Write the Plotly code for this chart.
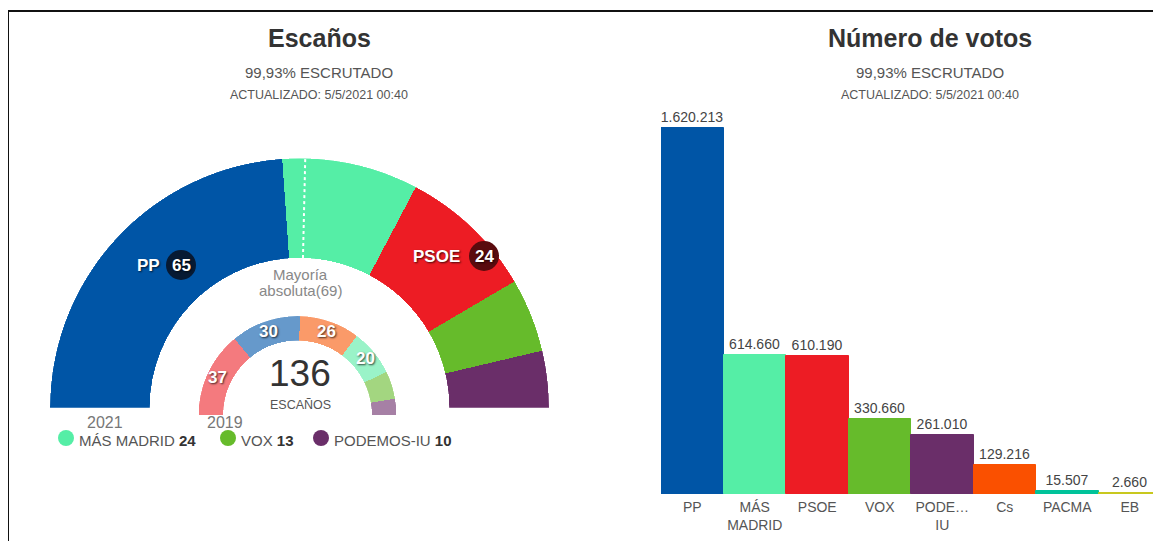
import plotly.graph_objects as go
import math

# page body has an 8px margin; figure sized to fit the window
OFF = 8
W, H = 1161 - OFF, 541 - OFF

# ---------------- data ----------------
parties_2021 = ["PP", "MÁS MADRID", "PSOE", "VOX", "PODEMOS-IU"]
seats_2021 = [65, 24, 24, 13, 10]
colors_2021 = ["#0055a6", "#55eea6", "#ed1c24", "#66bb2b", "#6a2e69"]

parties_2019 = ["PSOE", "PP", "Cs", "MÁS MADRID", "VOX", "PODEMOS"]
seats_2019 = [37, 30, 26, 20, 12, 7]
colors_2019 = ["#f47a7e", "#6699cb", "#fa9a69", "#9af3c8", "#a3d680", "#a680a5"]

majority = 69
total_seats = 136

vote_labels = ["PP", "MÁS<br>MADRID", "PSOE", "VOX", "PODE…<br>IU", "Cs", "PACMA", "EB"]
votes = [1620213, 614660, 610190, 330660, 261010, 129216, 15507, 2660]
vote_colors = ["#0055a6", "#55eea6", "#ed1c24", "#66bb2b", "#6a2e69", "#fa5000", "#00c39a", "#c8c81e"]

legend_parties = ["MÁS MADRID", "VOX", "PODEMOS-IU"]
legend_seats = [24, 13, 10]
legend_colors = ["#55eea6", "#66bb2b", "#6a2e69"]

FONT = "Liberation Sans, Arial, sans-serif"


def px(x):
    return (x - OFF) / W


def py(y):
    return 1 - (y - OFF) / H


def arc_bars(seats):
    tot = sum(seats)
    thetas, widths = [], []
    c = 0
    for s in seats:
        thetas.append((c + s / 2) / tot * 180)
        widths.append(s / tot * 180)
        c += s
    return thetas, widths


fig = go.Figure()

# outer ring (2021)
th, wd = arc_bars(seats_2021)
fig.add_trace(go.Barpolar(
    r=[1] * len(seats_2021), theta=th, width=wd, marker_color=colors_2021,
    marker_line_width=0, subplot="polar", hoverinfo="skip", showlegend=False,
    text=parties_2021))
# majority dotted line
maj_theta = majority / sum(seats_2021) * 180
fig.add_trace(go.Scatterpolar(
    r=[0, 1], theta=[maj_theta, maj_theta], mode="lines",
    line=dict(color="white", width=2, dash="dot"), subplot="polar",
    hoverinfo="skip", showlegend=False))

# inner ring (2019)
th2, wd2 = arc_bars(seats_2019)
fig.add_trace(go.Barpolar(
    r=[1] * len(seats_2019), theta=th2, width=wd2, marker_color=colors_2019,
    marker_line_width=0, subplot="polar2", hoverinfo="skip", showlegend=False,
    text=parties_2019))

# votes bar chart
fig.add_trace(go.Bar(
    x=vote_labels, y=votes, marker_color=vote_colors,
    marker_line_color=vote_colors, marker_line_width=1,
    text=[f"{v:,}".replace(",", ".") for v in votes], textposition="outside",
    textfont=dict(size=14, color="#444", family=FONT), cliponaxis=False,
    hoverinfo="skip", showlegend=False, width=1))

# geometry of polars (pixels in the screenshot)
O_L, O_R, O_T, O_B = 50, 549, 158, 408
I_L, I_R, I_T, I_B = 198, 397, 316, 415

polar_common = dict(
    sector=[0, 180], bgcolor="rgba(0,0,0,0)",
    radialaxis=dict(visible=False, range=[0, 1]),
    angularaxis=dict(visible=False, rotation=180, direction="clockwise", thetaunit="degrees"),
    bargap=0,
)

bar_top_px = 128
base_px = 494
dom_top_px = 100
ymax = votes[0] * (base_px - dom_top_px) / (base_px - bar_top_px)

annotations = []


def ann(x, y, text, size, color="#555", bold=False, xanchor="center", shadow=None, family=FONT):
    f = dict(size=size, color=color, family=family)
    if shadow:
        f["shadow"] = shadow
    annotations.append(dict(
        x=px(x), y=py(y), xref="paper", yref="paper", showarrow=False,
        text=f"<b>{text}</b>" if bold else text, font=f, xanchor=xanchor, yanchor="middle"))


# titles
for cx, title in [(319, "Escaños"), (930, "Número de votos")]:
    ann(cx, 38, title, 25, "#333", bold=True)
    ann(cx, 72, "99,93% ESCRUTADO", 15, "#555")
    ann(cx, 95, "ACTUALIZADO: 5/5/2021 00:40", 12.5, "#555")

# centre texts
ann(300, 274, "Mayoría", 15, "#888")
ann(300, 290, f"absoluta({majority})", 15, "#888")
ann(300, 373, str(total_seats), 37, "#333")
ann(300, 405, "ESCAÑOS", 12.5, "#555")
ann(105, 422, "2021", 16, "#777")
ann(225, 422, "2019", 16, "#777")

shadow = "1px 1px 2px rgba(0,0,0,0.7)"

# inner ring labels (largest four)
icx, icy = (I_L + I_R) / 2, I_B
ir = 88
for i in range(4):
    a = math.radians(th2[i])
    x = icx - ir * math.cos(a)
    y = icy - ir * math.sin(a)
    ann(x, y, str(seats_2019[i]), 17, "white", bold=True, shadow=shadow)

shapes = []

# PP and PSOE labels with badges
badges = [(0, 148, 181, 265, "#071a33"), (2, 436, 484, 256, "#5a0b0e")]
for idx, tx, bx, by, bc in badges:
    ann(tx, by, parties_2021[idx], 17, "white", bold=True, shadow=shadow)
    rr = 15
    shapes.append(dict(type="circle", xref="paper", yref="paper",
                       x0=px(bx - rr), x1=px(bx + rr), y0=py(by + rr), y1=py(by - rr),
                       fillcolor=bc, line=dict(width=0), layer="above"))
    ann(bx, by, str(seats_2021[idx]), 17, "white", bold=True, shadow=shadow)

# legend
leg_x = [66, 228, 321]
for lx, name, s, c in zip(leg_x, legend_parties, legend_seats, legend_colors):
    r = 8
    shapes.append(dict(type="circle", xref="paper", yref="paper",
                       x0=px(lx - r), x1=px(lx + r), y0=py(438 + r), y1=py(438 - r),
                       fillcolor=c, line=dict(width=0)))
    annotations.append(dict(
        x=px(lx + 11), y=py(440), xref="paper", yref="paper", showarrow=False,
        text=f"{name} <b><span style='color:#333'>{s}</span></b>",
        font=dict(size=15, color="#555", family=FONT), xanchor="left", yanchor="middle"))

# frame
shapes.append(dict(type="rect", xref="paper", yref="paper",
                   x0=px(8), x1=px(1161 + 20), y0=py(541 + 20), y1=py(11),
                   line=dict(color="#111", width=2), fillcolor="rgba(0,0,0,0)"))

fig.update_layout(
    width=W, height=H, margin=dict(l=0, r=0, t=0, b=0),
    paper_bgcolor="white", plot_bgcolor="white",
    font=dict(family=FONT),
    polar=dict(domain=dict(x=[px(O_L), px(O_R)], y=[py(O_B), py(O_T)]), hole=0.6, **polar_common),
    polar2=dict(domain=dict(x=[px(I_L), px(I_R)], y=[py(I_B), py(I_T)]), hole=0.75, **polar_common),
    xaxis=dict(domain=[px(661), 1], showgrid=False, zeroline=False, showline=False,
               ticks="", ticklabelstandoff=3,
               tickfont=dict(size=14, color="#555", family=FONT), fixedrange=True),
    yaxis=dict(domain=[py(base_px), py(dom_top_px)], range=[0, ymax], visible=False,
               showgrid=False, zeroline=False, fixedrange=True),
    bargap=0,
    annotations=annotations,
    shapes=shapes,
    showlegend=False,
)

fig.write_html("out.html")
